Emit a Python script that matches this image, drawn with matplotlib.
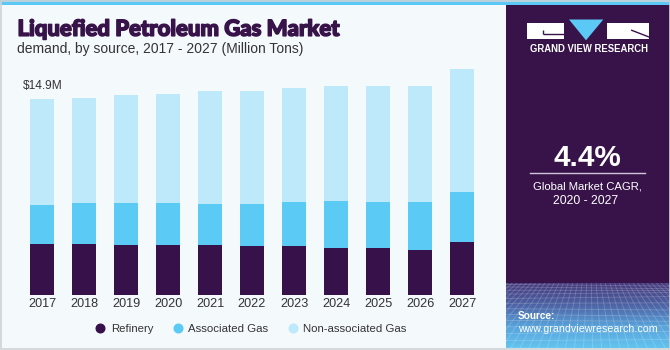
import matplotlib
matplotlib.use('Agg')
import matplotlib.pyplot as plt
import numpy as np
from matplotlib.patches import Rectangle, Polygon
from matplotlib.lines import Line2D
from matplotlib.colors import LinearSegmentedColormap
import matplotlib.patheffects as pe

# ---------------- data ----------------
years = ['2017', '2018', '2019', '2020', '2021', '2022', '2023', '2024', '2025', '2026', '2027']
refinery = [3.88, 3.88, 3.78, 3.78, 3.78, 3.75, 3.75, 3.60, 3.60, 3.44, 4.05]
associated = [2.97, 3.10, 3.19, 3.19, 3.16, 3.19, 3.32, 3.53, 3.48, 3.63, 3.78]
non_associated = [8.06, 8.01, 8.21, 8.29, 8.57, 8.57, 8.67, 8.77, 8.82, 8.82, 9.33]
series_names = ['Refinery', 'Associated Gas', 'Non-associated Gas']
first_value_label = '$14.9M'
title = 'Liquefied Petroleum Gas Market'
subtitle = 'demand, by source, 2017 - 2027 (Million Tons)'
cagr_value = '4.4%'
cagr_lines = ['Global Market CAGR,', '2020 - 2027']

# ---------------- style ----------------
C_REF = '#37114a'
C_ASSOC = '#5bcaf5'
C_NON = '#bde9fa'
BG = '#f4f9fc'
PANEL = '#381349'
FONT = ['Liberation Sans', 'DejaVu Sans']

W, H = 670, 350
fig = plt.figure(figsize=(W / 100, H / 100), dpi=100, facecolor=BG)
renderer = fig.canvas.get_renderer()

deco = fig.add_axes([0, 0, 1, 1])
deco.set_xlim(0, W)
deco.set_ylim(H, 0)
deco.axis('off')
deco.set_zorder(0)


def fit(t, width):
    bb = t.get_window_extent(renderer)
    t.set_fontsize(t.get_fontsize() * width / bb.width)


# top stripe
deco.add_patch(Rectangle((0, 0), W, 5, color='#5bc8f5', lw=0))
# right panel
deco.add_patch(Rectangle((505.5, 5), W - 505.5, 343, color=PANEL, lw=0))

# bottom gradient of panel
cmap = LinearSegmentedColormap.from_list('g', ['#463a7c', '#4d63a4', '#58a2da', '#63c4ef'])
grad = np.linspace(0, 1, 100).reshape(-1, 1)
deco.imshow(grad, cmap=cmap, extent=[505.5, W, 348, 283], aspect='auto', zorder=1)
clip = Rectangle((505.5, 283), W - 505.5, 65, transform=deco.transData, visible=False)
deco.add_patch(clip)
vx, vy = 590, 215
for xb in np.arange(300, 900, 14):
    ln = Line2D([vx, xb], [vy, 420], color='white', alpha=0.2, lw=0.6, zorder=2)
    deco.add_line(ln)
    ln.set_clip_path(clip)
for k in range(1, 14):
    yy = 283 + 65 * (k / 13) ** 1.5
    ln = Line2D([505.5, W], [yy, yy + 2 * np.sin(k)], color='white', alpha=0.2, lw=0.6, zorder=2)
    deco.add_line(ln)
    ln.set_clip_path(clip)
deco.set_xlim(0, W)
deco.set_ylim(H, 0)

# outline border
deco.add_patch(Rectangle((0.5, 0.5), W - 1, H - 1.5, fill=False, ec='#cfd3d6', lw=1.2, zorder=5))

# logo
deco.add_patch(Rectangle((527, 23), 37, 16.3, color='white', lw=0, zorder=3))
deco.plot([543, 564], [34.3, 34.3], color=PANEL, lw=1.0, zorder=4, solid_capstyle='butt')
deco.plot([543, 543], [30.3, 34.3], color=PANEL, lw=1.0, zorder=4, solid_capstyle='butt')
deco.add_patch(Polygon([(569, 19.5), (603.3, 19.5), (586, 40.3)], closed=True, color='#5bc8f5', lw=0, zorder=3))
deco.add_patch(Rectangle((607, 23), 42, 16.3, color='white', lw=0, zorder=3))
deco.plot([631.7, 649], [30.3, 37], color=PANEL, lw=1.0, zorder=4)
t = deco.text(530, 52.5, 'GRAND VIEW RESEARCH', color='white', fontsize=6.5, fontweight='bold',
              family=FONT, va='baseline', ha='left', zorder=4)
fit(t, 118)

# CAGR block
t = deco.text(587.5, 166, cagr_value, color='white', fontsize=21, fontweight='bold',
              family=FONT, va='baseline', ha='center', zorder=4)
fit(t, 68)
deco.plot([530, 645], [173.3, 173.3], color='#cfc6d8', lw=1.0, zorder=4)
t = deco.text(587.5, 189.3, cagr_lines[0], color='white', fontsize=8.2, family=FONT,
              va='baseline', ha='center', zorder=4)
fit(t, 109)
t = deco.text(585.5, 204.3, cagr_lines[1], color='white', fontsize=8.2, family=FONT,
              va='baseline', ha='center', zorder=4)
fit(t, 64.7)

# source
t = deco.text(518, 319.3, 'Source:', color='white', fontsize=8.2, fontweight='bold', family=FONT,
              va='baseline', ha='left', zorder=4)
fit(t, 37.7)
t = deco.text(518, 332.5, 'www.grandviewresearch.com', color='white', fontsize=8.2, family=FONT,
              va='baseline', ha='left', zorder=4)
fit(t, 137.7)

# titles
t = deco.text(17.5, 35.8, title, color=PANEL, fontsize=15, fontweight=900,
              family=['Lato', 'Roboto', 'DejaVu Sans'], va='baseline', ha='left', zorder=4,
              path_effects=[pe.withStroke(linewidth=1.1, foreground=PANEL)])
fit(t, 324)
t = deco.text(17, 53.3, subtitle, color='#333333', fontsize=10, family=FONT,
              va='baseline', ha='left', zorder=4)
fit(t, 286)
t = deco.text(23, 89.3, first_value_label, color='#333333', fontsize=9.5, family=FONT,
              va='baseline', ha='left', zorder=4)
fit(t, 40)

# ---------------- chart ----------------
ax = fig.add_axes([21 / W, 55 / H, 462 / W, 235 / H])
ax.set_zorder(1)
ax.patch.set_alpha(0)
x = np.arange(len(years))
ref = np.array(refinery)
asg = np.array(associated)
non = np.array(non_associated)
bw = 0.57
ax.bar(x, ref, bw, color=C_REF, label=series_names[0], lw=0)
ax.bar(x, asg, bw, bottom=ref, color=C_ASSOC, label=series_names[1], lw=0)
ax.bar(x, non, bw, bottom=ref + asg, color=C_NON, label=series_names[2], lw=0)
ax.set_xlim(-0.5, len(years) - 0.5)
ax.set_ylim(0, 235 / 13.15)
ax.set_xticks(x)
ax.set_xticklabels(years, family=FONT, fontsize=9.1, color='#333333')
ax.tick_params(axis='x', length=0, pad=2.5)
ax.set_yticks([])
for s in ax.spines.values():
    s.set_visible(False)

handles = [Line2D([], [], marker='o', ls='', markersize=6.2, color=c, mec=c)
           for c in (C_REF, C_ASSOC, C_NON)]
fig.legend(handles, series_names, loc='center', bbox_to_anchor=(251 / W, 1 - 329 / H), ncol=3,
           frameon=False, prop={'family': FONT, 'size': 8.2}, handlelength=0.8,
           handletextpad=0.5, columnspacing=1.75, labelcolor='#333333')

fig.savefig('out.png', dpi=100, facecolor=BG)
